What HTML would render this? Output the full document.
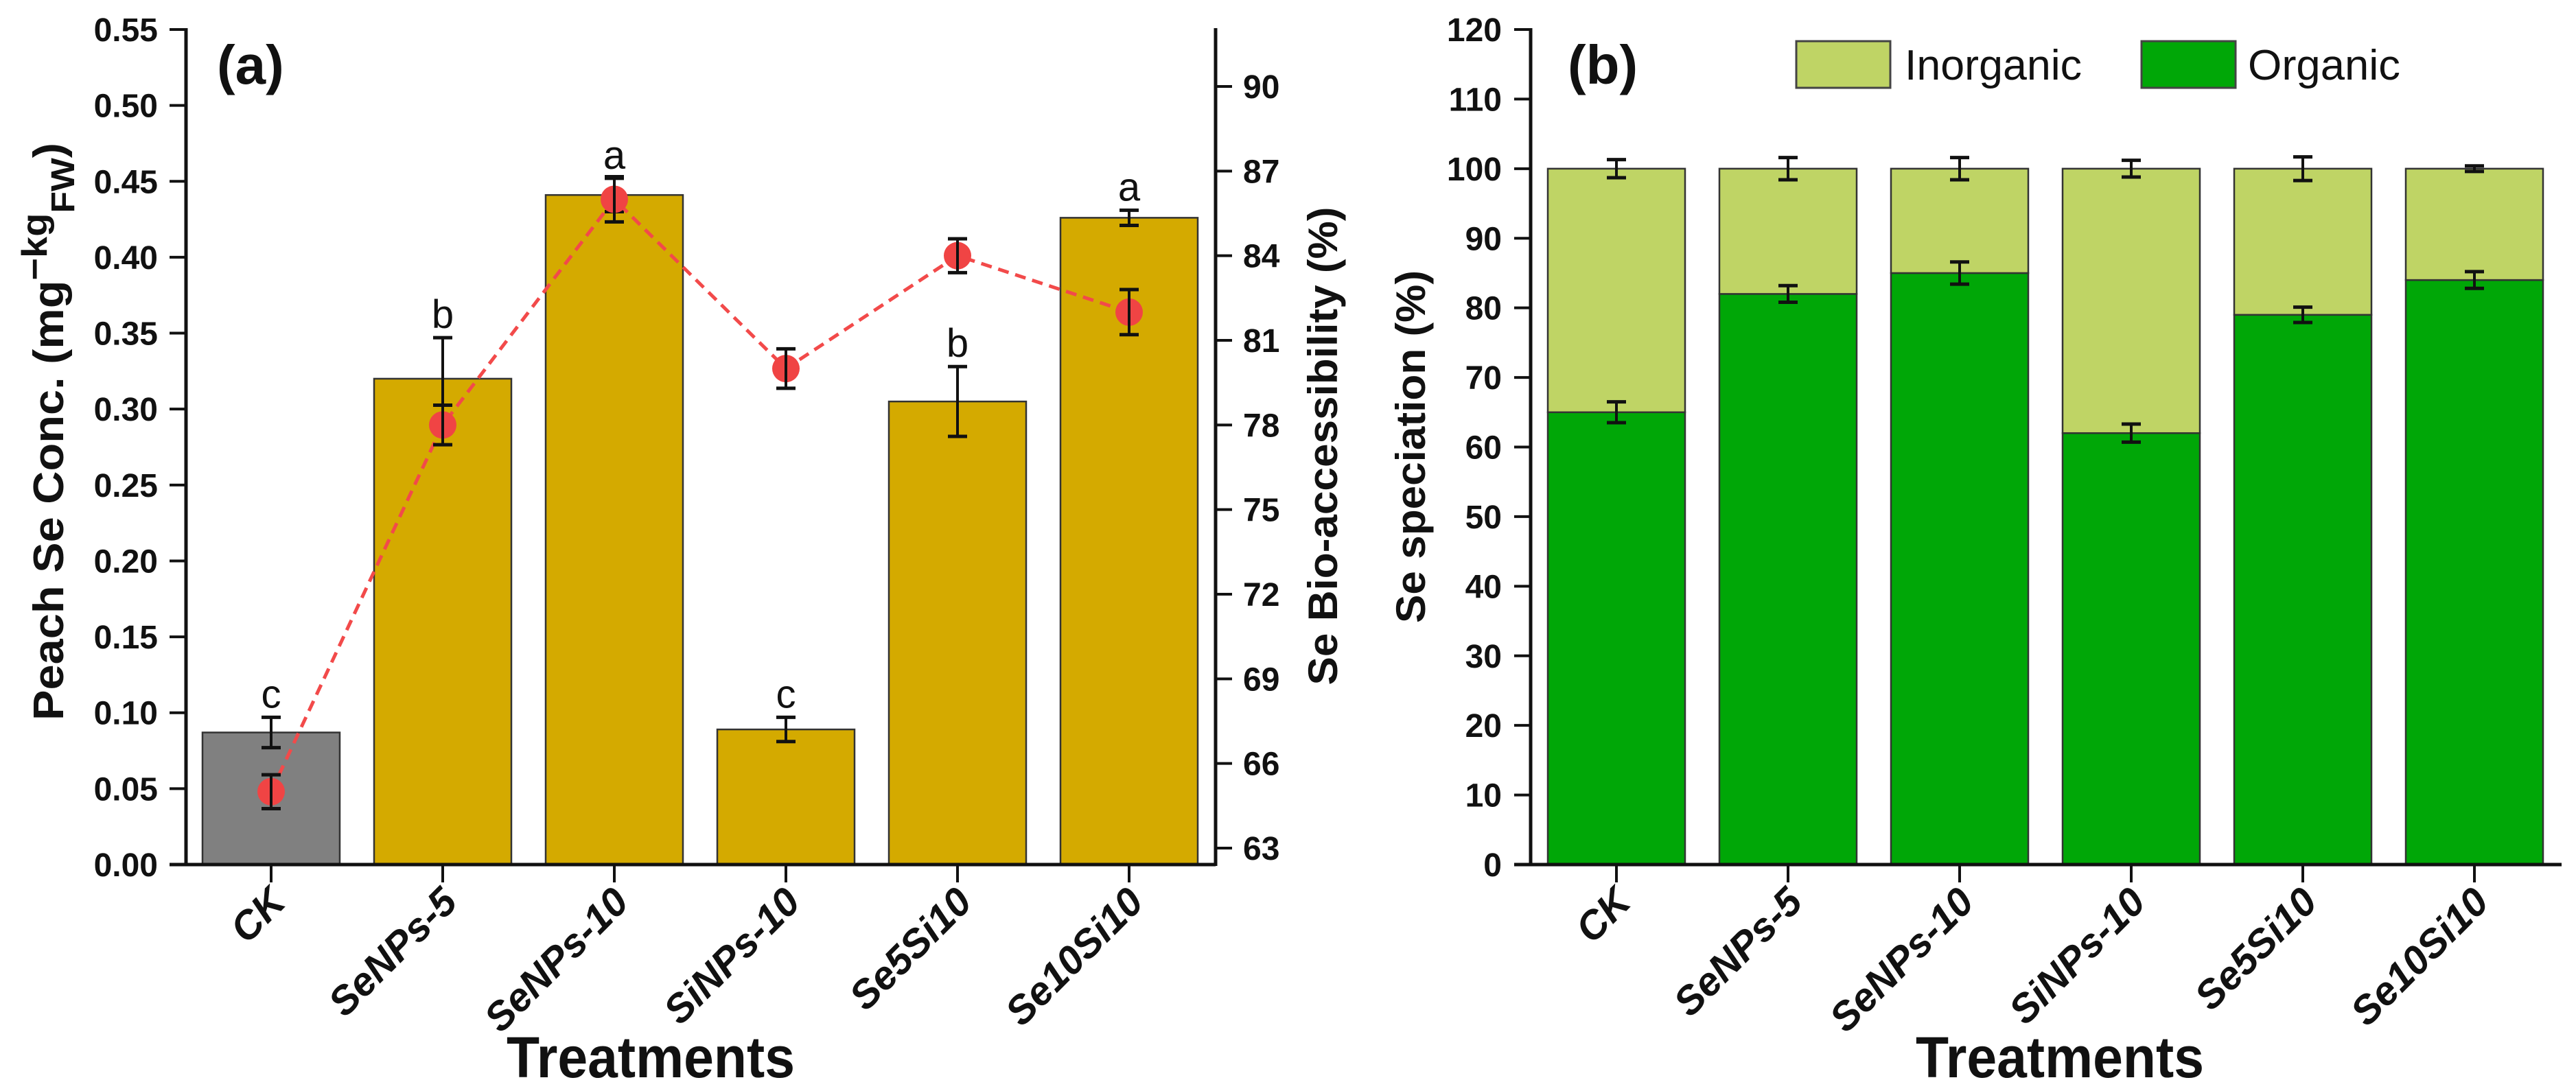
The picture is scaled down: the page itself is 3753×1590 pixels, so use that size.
<!DOCTYPE html>
<html><head><meta charset="utf-8">
<style>
html,body{margin:0;padding:0;background:#fff;}
svg{display:block;}
text{font-family:"Liberation Sans",Arial,sans-serif;}
</style></head>
<body>
<svg id="fig" width="3753" height="1590" viewBox="0 0 3753 1590" xmlns="http://www.w3.org/2000/svg"></svg>
<script>
const categories = ["CK","SeNPs-5","SeNPs-10","SiNPs-10","Se5Si10","Se10Si10"];
const concValues = [0.087,0.320,0.441,0.089,0.305,0.426];
const concErrors = [0.010,0.027,0.011,0.008,0.023,0.005];
const concLetters = ["c","b","a","c","b","a"];
const bioValues = [65,78,86,80,84,82];
const bioErrors = [0.6,0.7,0.8,0.7,0.6,0.8];
const organicValues = [65,82,85,62,79,84];
const organicErrors = [1.5,1.2,1.6,1.3,1.1,1.2];
const inorganicValues = [35,18,15,38,21,16];
const totalErrors = [1.3,1.6,1.6,1.2,1.7,0.4];
const leftTicksA = ["0.00","0.05","0.10","0.15","0.20","0.25","0.30","0.35","0.40","0.45","0.50","0.55"];
const rightTicksA = ["63","66","69","72","75","78","81","84","87","90"];
const ticksB = ["0","10","20","30","40","50","60","70","80","90","100","110","120"];

const NS="http://www.w3.org/2000/svg";
const svg=document.getElementById('fig');
function el(tag,attrs,parent,txt){const e=document.createElementNS(NS,tag);for(const k in attrs)e.setAttribute(k,attrs[k]);if(txt!==undefined)e.textContent=txt;(parent||svg).appendChild(e);return e;}

const Y0=1260, YTOP=43;
const aL=271, aR=1771;
const xA=i=>395+250*i;
const yA=v=>Y0-(v/0.55)*(Y0-YTOP);
const yR=v=>1236-(v-63)*(1236-126)/27;
const bL=2230, bR=3732;
const xB=i=>2355+250*i;
const yB=v=>Y0-(v/120)*(Y0-YTOP);
const BW=200;

function errBar(g,x,y1,y2){
  el('line',{x1:x,x2:x,y1:y1,y2:y2,stroke:'#111','stroke-width':4},g);
  el('line',{x1:x-14,x2:x+14,y1:y1,y2:y1,stroke:'#111','stroke-width':5},g);
  el('line',{x1:x-14,x2:x+14,y1:y2,y2:y2,stroke:'#111','stroke-width':5},g);
}

// ---------- Panel A ----------
const gA=el('g',{});


categories.forEach((c,i)=>{
  const v=concValues[i];
  const r=el('rect',{x:xA(i)-BW/2,y:yA(v),width:BW,height:Y0-yA(v),fill:i===0?'#808080':'#d4aa00',stroke:'#333','stroke-width':2.5},gA);
  
  
});
categories.forEach((c,i)=>{
  const g=el('g',{},gA);
  
  
  errBar(g,xA(i),yA(concValues[i]+concErrors[i]),yA(concValues[i]-concErrors[i]));
  const t=el('text',{x:xA(i),y:yA(concValues[i]+concErrors[i])-14,'font-size':58,'text-anchor':'middle',fill:'#111'},gA,concLetters[i]);
  
  
});
const pts=bioValues.map((v,i)=>xA(i)+','+yR(v)).join(' ');
const pl=el('polyline',{points:pts,fill:'none',stroke:'#f24a4a','stroke-width':5,'stroke-dasharray':'16 10'},gA);


bioValues.forEach((v,i)=>{
  const d=el('circle',{cx:xA(i),cy:yR(v),r:20,fill:'#f04444'},gA);
  
  
  const g=el('g',{},gA);
  
  
  errBar(g,xA(i),yR(v+bioErrors[i]),yR(v-bioErrors[i]));
});
el('line',{x1:aL,x2:aL,y1:YTOP-2,y2:Y0+2,stroke:'#111','stroke-width':5},gA);
el('line',{x1:aR,x2:aR,y1:YTOP-2,y2:Y0+2,stroke:'#111','stroke-width':5},gA);
el('line',{x1:aL-24,x2:aR,y1:Y0,y2:Y0,stroke:'#111','stroke-width':5},gA);
leftTicksA.forEach((t,i)=>{
  const y=yA(i*0.05);
  el('line',{x1:aL-24,x2:aL,y1:y,y2:y,stroke:'#111','stroke-width':4},gA);
  const tx=el('text',{x:230,y:y+17,'font-size':48,'font-weight':'bold','text-anchor':'end',fill:'#111'},gA,t);
  
  
});
rightTicksA.forEach(t=>{
  const y=yR(+t);
  el('line',{x1:aR,x2:aR+24,y1:y,y2:y,stroke:'#111','stroke-width':4},gA);
  const tx=el('text',{x:1811,y:y+17,'font-size':48,'font-weight':'bold',fill:'#111'},gA,t);
  
  
});
categories.forEach((c,i)=>{
  el('line',{x1:xA(i),x2:xA(i),y1:Y0,y2:Y0+26,stroke:'#111','stroke-width':4},gA);
  const ax=xA(i)+24, ay=Y0+58;
  const tx=el('text',{x:ax,y:ay,'font-size':58,'font-weight':'bold','font-style':'italic','text-anchor':'end',fill:'#111',transform:`rotate(-45 ${ax} ${ay})`},gA,c);
  
  
});
const pa=el('text',{x:316,y:122,'font-size':80,'font-weight':'bold',fill:'#111'},gA,'(a)');


const xtA=el('text',{x:948,y:1570,'font-size':84,'font-weight':'bold','text-anchor':'middle',textLength:420,lengthAdjust:'spacingAndGlyphs',fill:'#111'},gA,'Treatments');


const ytA=el('text',{x:0,y:0,'font-size':62,'font-weight':'bold',fill:'#111',transform:'translate(92 1050) rotate(-90)',textLength:842,lengthAdjust:'spacingAndGlyphs'},gA);


el('tspan',{},ytA,'Peach Se Conc. (mg');
el('tspan',{dy:-24,'font-size':52},ytA,'\u2212kg');
el('tspan',{dy:40,'font-size':48},ytA,'FW');
el('tspan',{dy:-16},ytA,')');
const ytR=el('text',{x:0,y:0,'font-size':60,'font-weight':'bold',fill:'#111','text-anchor':'middle',textLength:697,lengthAdjust:'spacingAndGlyphs',transform:'translate(1948 650) rotate(-90)'},gA,'Se Bio-accessibility (%)');



// ---------- Panel B ----------
const gB=el('g',{});


categories.forEach((c,i)=>{
  const o=organicValues[i], n=inorganicValues[i];
  const r1=el('rect',{x:xB(i)-BW/2,y:yB(o),width:BW,height:Y0-yB(o),fill:'#00a707',stroke:'#333','stroke-width':2.5},gB);
  
  
  const r2=el('rect',{x:xB(i)-BW/2,y:yB(o+n),width:BW,height:yB(o)-yB(o+n),fill:'#bfd465',stroke:'#333','stroke-width':2.5},gB);
  
  
  const g=el('g',{},gB);
  
  
  errBar(g,xB(i),yB(o+organicErrors[i]),yB(o-organicErrors[i]));
  errBar(g,xB(i),yB(o+n+totalErrors[i]),yB(o+n-totalErrors[i]));
});
el('line',{x1:bL,x2:bL,y1:YTOP-2,y2:Y0+2,stroke:'#111','stroke-width':5},gB);
el('line',{x1:bL-24,x2:bR,y1:Y0,y2:Y0,stroke:'#111','stroke-width':5},gB);
ticksB.forEach(t=>{
  const y=yB(+t);
  el('line',{x1:bL-24,x2:bL,y1:y,y2:y,stroke:'#111','stroke-width':4},gB);
  const tx=el('text',{x:2188,y:y+17,'font-size':48,'font-weight':'bold','text-anchor':'end',fill:'#111'},gB,t);
  
  
});
categories.forEach((c,i)=>{
  el('line',{x1:xB(i),x2:xB(i),y1:Y0,y2:Y0+26,stroke:'#111','stroke-width':4},gB);
  const ax=xB(i)+24, ay=Y0+58;
  const tx=el('text',{x:ax,y:ay,'font-size':58,'font-weight':'bold','font-style':'italic','text-anchor':'end',fill:'#111',transform:`rotate(-45 ${ax} ${ay})`},gB,c);
  
  
});
const pb=el('text',{x:2284,y:122,'font-size':80,'font-weight':'bold',fill:'#111'},gB,'(b)');


const xtB=el('text',{x:3001,y:1570,'font-size':84,'font-weight':'bold','text-anchor':'middle',textLength:420,lengthAdjust:'spacingAndGlyphs',fill:'#111'},gB,'Treatments');


const ytB=el('text',{x:0,y:0,'font-size':60,'font-weight':'bold',fill:'#111','text-anchor':'middle',textLength:514,lengthAdjust:'spacingAndGlyphs',transform:'translate(2076 651) rotate(-90)'},gB,'Se speciation (%)');


const lg=el('g',{},gB);


const l1=el('rect',{x:2617,y:60,width:137,height:68,fill:'#bfd465',stroke:'#444','stroke-width':3},lg);


const lt1=el('text',{x:2775,y:116,'font-size':62,fill:'#111',textLength:258,lengthAdjust:'spacingAndGlyphs'},lg,'Inorganic');


const l2=el('rect',{x:3120,y:60,width:137,height:68,fill:'#00a707',stroke:'#444','stroke-width':3},lg);


const lt2=el('text',{x:3275,y:116,'font-size':62,fill:'#111',textLength:222,lengthAdjust:'spacingAndGlyphs'},lg,'Organic');


</script>
</body></html>
